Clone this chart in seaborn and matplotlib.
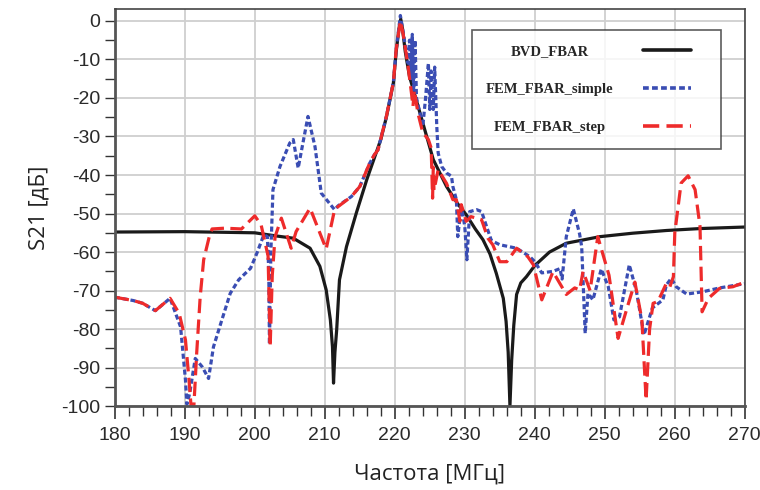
import numpy as np
import pandas as pd
import matplotlib
matplotlib.use("Agg")
import matplotlib.pyplot as plt
from matplotlib.ticker import MultipleLocator
import seaborn as sns

# ---- data ----
bvd_f = [180, 190, 200, 203, 205.5, 207.9, 209.3, 210.2, 210.8, 211.1, 211.25,
         211.45, 211.7, 212.1, 213.1, 214.5, 216.0, 217.0, 218.0, 218.8, 219.8,
         220.2, 220.6, 220.85, 221.1, 221.5, 222.1, 223.6, 225.5, 227.4, 229.0,
         230.2, 231.5, 232.6, 233.6, 234.5, 235.5, 235.9, 236.2, 236.45, 236.7,
         237.0, 237.4, 238.0, 238.8, 240.0, 242.1, 244.5, 249.3, 254.0, 258.8,
         263.6, 270]
bvd_db = [-54.8, -54.7, -55.0, -55.8, -56.4, -59.0, -63.7, -69.8, -77.6, -84.6, -94.0,
          -86.0, -80.2, -67.2, -58.6, -49.9, -41.2, -36.0, -30.8, -25.0, -16.1,
          -8.0, -2.0, 0.5, -2.0, -8.0, -14.4, -23.9, -36.0, -43.0, -47.5,
          -50.3, -54.0, -56.8, -60.5, -65.5, -72.0, -78.0, -86.0, -100.0, -88.0,
          -79.0, -71.0, -68.0, -66.4, -63.5, -60.0, -57.7, -56.0, -55.1, -54.4,
          -53.9, -53.5]

simple_f = [180, 182.7, 184, 185.8, 187.9, 189.4, 190.1, 190.3, 190.7, 191.5, 192.5,
            193.4, 194.1, 195.3, 196.5, 197.7, 199.4, 200.3, 201.3, 201.8, 202.0,
            202.1, 202.3, 202.6, 203.6, 205.0, 205.5, 206.2, 207.6, 208.6, 209.5,
            211.4, 211.9, 213.8, 215.0, 216.4, 217.1, 217.6, 218.8, 219.8, 220.2,
            220.8, 221.2, 221.9, 222.1, 222.3, 222.5, 222.7, 222.9, 223.1, 223.6,
            224.0, 224.4, 224.8, 225.0, 225.2, 225.5, 225.7, 226.0, 226.2, 226.7,
            227.4, 228.1, 228.3, 228.8, 229.0, 229.5, 230.0, 230.3, 230.7, 231.7,
            232.4, 233.1, 233.8, 235.0, 237.4, 239.3, 240.0, 241.0, 242.6, 243.6,
            243.9, 244.5, 245.5, 246.4, 246.7, 247.2, 247.6, 248.3, 249.5, 250.5,
            251.3, 252.1, 253.5, 254.5, 255.6, 256.8, 258.3, 258.8, 259.5, 260.2,
            261.7, 264.0, 266.4, 270]
simple_db = [-71.7, -72.6, -73.3, -75.2, -72.0, -79.4, -93.2, -99.5, -96.7, -87.6, -89.8,
             -92.8, -84.6, -77.6, -70.7, -67.2, -64.2, -60.3, -55.5, -56.0, -65.0,
             -84.0, -60.0, -43.8, -37.8, -31.7, -30.8, -38.2, -24.8, -32.6, -44.7,
             -49.0, -48.0, -45.6, -43.0, -37.0, -34.7, -33.5, -24.8, -16.0, -7.4,
             1.4, -3.0, -11.0, -5.0, -15.0, -3.5, -18.0, -5.0, -20.0, -24.0,
             -27.4, -20.0, -11.0, -23.0, -13.0, -23.0, -12.0, -27.4, -34.3, -37.8,
             -39.5, -40.3, -43.0, -46.4, -56.0, -48.0, -53.3, -62.0, -49.5, -49.0,
             -49.5, -53.3, -57.0, -58.1, -59.0, -61.2, -62.5, -65.4, -65.0, -64.3,
             -67.0, -56.0, -48.8, -55.3, -58.6, -81.1, -70.7, -72.4, -64.4, -69.0,
             -77.6, -76.8, -63.3, -70.0, -81.5, -74.5, -72.4, -68.5, -66.8, -69.0,
             -70.9, -70.3, -69.3, -68.2]

step_f = [180, 182.7, 184, 185.8, 187.9, 189.2, 190.1, 190.6, 190.9, 191.3, 191.7,
          192.2, 192.7, 193.5, 193.9, 195.7, 198.1, 200.0, 200.9, 201.9, 202.2,
          202.5, 202.9, 203.8, 205.2, 205.9, 207.9, 210.2, 211.4, 211.9, 213.8,
          215.0, 216.4, 217.1, 217.6, 218.8, 219.8, 220.2, 220.8, 221.2, 221.9,
          222.4, 222.6, 222.8, 223.3, 224.0, 224.8, 225.2, 225.4, 225.5, 225.6,
          226.2, 227.4, 228.3, 228.8, 229.3, 229.5, 230.2, 230.9, 232.4, 233.3,
          234.0, 235.0, 236.0, 237.4, 239.0, 239.8, 241.0, 242.6, 244.5, 245.7,
          246.4, 246.9, 247.9, 249.0, 250.6, 251.9, 253.1, 254.3, 255.3, 255.9,
          256.4, 256.9, 257.6, 258.8, 259.3, 259.8, 260.0, 260.9, 261.9, 262.9,
          263.6, 263.9, 264.8, 266.4, 268.3, 270]
step_db = [-71.7, -72.6, -73.3, -75.2, -72.0, -75.9, -82.8, -93.0, -100.0, -100.0, -86.3,
           -71.7, -62.0, -56.0, -54.0, -53.8, -54.0, -50.6, -52.9, -61.0, -84.6,
           -66.0, -56.0, -51.2, -59.0, -54.7, -48.6, -59.2, -49.0, -48.2, -45.6,
           -43.0, -37.0, -34.7, -33.5, -24.8, -16.0, -7.4, 0.0, -3.4, -11.8,
           -19.0, -22.2, -18.0, -23.9, -29.0, -30.8, -33.0, -46.0, -38.0, -44.0,
           -38.6, -42.2, -46.4, -46.4, -52.0, -47.7, -52.0, -50.8, -51.6, -56.4,
           -58.1, -62.5, -62.5, -59.0, -61.2, -63.3, -72.4, -65.1, -71.0, -69.3,
           -69.8, -65.0, -70.0, -56.0, -66.0, -82.4, -75.0, -67.8, -77.6, -98.4,
           -80.0, -73.3, -72.8, -68.1, -69.0, -66.4, -55.0, -42.1, -40.2, -43.8,
           -53.3, -75.5, -72.0, -69.4, -69.0, -67.8]

series_names = ["BVD_FBAR", "FEM_FBAR_simple", "FEM_FBAR_step"]
x_ticks = [180, 190, 200, 210, 220, 230, 240, 250, 260, 270]
y_ticks = [0, -10, -20, -30, -40, -50, -60, -70, -80, -90, -100]
x_label = "Частота [МГц]"
y_label = "S21 [дБ]"

df = pd.concat([
    pd.DataFrame({"f": bvd_f, "db": bvd_db, "series": series_names[0]}),
    pd.DataFrame({"f": simple_f, "db": simple_db, "series": series_names[1]}),
    pd.DataFrame({"f": step_f, "db": step_db, "series": series_names[2]}),
], ignore_index=True)

# ---- styling ----
sns.set_theme(style="white")
plt.rcParams["font.family"] = ["Liberation Sans Narrow", "Liberation Sans", "DejaVu Sans"]
plt.rcParams["axes.unicode_minus"] = False

fig = plt.figure(figsize=(7.6, 4.9), dpi=100)
ax = fig.add_axes([0.151, 0.171, 0.829, 0.810])

colors = {"BVD_FBAR": "#1a1a1a", "FEM_FBAR_simple": "#3a4db3", "FEM_FBAR_step": "#ee2b2b"}
dashes = {"BVD_FBAR": "", "FEM_FBAR_simple": (1.6, 0.9), "FEM_FBAR_step": (4.5, 2.0)}

sns.lineplot(data=df, x="f", y="db", hue="series", style="series",
             palette=colors, dashes=dashes, hue_order=series_names,
             style_order=series_names, sort=False, estimator=None,
             linewidth=2.3, ax=ax, legend=True)

ax.set_xlim(180, 270)
ax.set_ylim(-100, 3)
ax.set_xticks(x_ticks)
ax.set_yticks(y_ticks)
ax.xaxis.set_minor_locator(MultipleLocator(2))
ax.yaxis.set_minor_locator(MultipleLocator(5))
ax.grid(True, which="major", color="#cfcfcf", linewidth=1.3)
ax.set_axisbelow(True)

ax.tick_params(axis="both", which="both", direction="out", colors="#333333",
               labelsize=14, labelcolor="#2a2a2a")
ax.tick_params(axis="x", which="major", length=9, width=1.2, bottom=True)
ax.tick_params(axis="x", which="minor", length=7, width=1.0, bottom=True)
ax.tick_params(axis="y", which="both", length=7, width=1.0, left=True)
ax.tick_params(axis="x", which="major", pad=6)

for side in ["left", "bottom"]:
    ax.spines[side].set_color("#555555")
    ax.spines[side].set_linewidth(2.0)
for side in ["top", "right"]:
    ax.spines[side].set_color("#444444")
    ax.spines[side].set_linewidth(1.2)

ax.set_xlabel(x_label, fontsize=16, family=["Open Sans", "DejaVu Sans"],
              color="#222222", labelpad=14)
ax.set_ylabel(y_label, fontsize=16, family=["Open Sans", "DejaVu Sans"],
              color="#222222", labelpad=8)

handles, labels = ax.get_legend_handles_labels()
leg = ax.legend(handles, labels, loc="upper left",
                bbox_to_anchor=(0.567, 0.648, 0.395, 0.300), mode="expand",
                markerfirst=False, frameon=True, fancybox=False,
                handlelength=3.3, handletextpad=2.0, labelspacing=1.72,
                borderpad=1.0, borderaxespad=0.0,
                prop={"family": ["Liberation Serif", "DejaVu Serif"],
                      "weight": "bold", "size": 10.5})
leg.get_frame().set_edgecolor("#333333")
leg.get_frame().set_linewidth(1.2)
for h in leg.get_lines():
    h.set_linewidth(2.6)

# centre the legend labels in the left part of the box (as in the reference)
fig.canvas.draw()
inv = ax.transAxes.inverted()
text_xc = (550 - 115) / 630.0
for t, ln in zip(leg.get_texts(), leg.get_lines()):
    pts = ln.get_transform().transform(ln.get_xydata())
    yc_disp = pts[:, 1].mean()
    _, yc = inv.transform((0, yc_disp))
    t.set_transform(ax.transAxes)
    t.set_position((text_xc, yc))
    t.set_horizontalalignment("center")
    t.set_verticalalignment("center_baseline")

fig.savefig("out.png", dpi=100)
